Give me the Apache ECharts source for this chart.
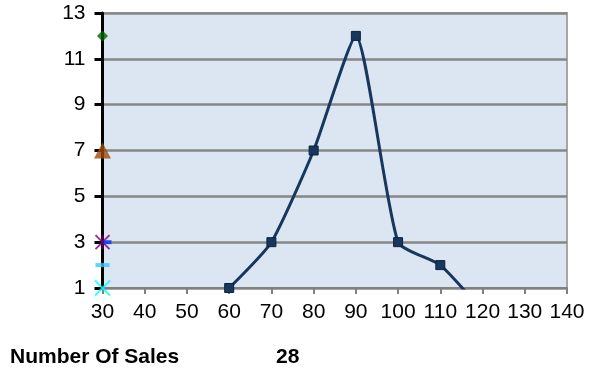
<!DOCTYPE html>
<html><head><meta charset="utf-8">
<script src="https://cdn.jsdelivr.net/npm/echarts@6/dist/echarts.min.js"></script>
<style>html,body{margin:0;padding:0;background:#fff}#c{width:589px;height:373px}</style>
</head><body><div id="c"></div>
<script>
const xTicks = [30,40,50,60,70,80,90,100,110,120,130,140];
const yTicks = [1,3,5,7,9,11,13];
const salesX = [60,70,80,90,100,110,120];
const salesY = [1,3,7,12,3,2,0];
const markerX = 30;
const diamondY = 12;
const triangleY = 7;
const starY = 3;
const blueDashY = 3;
const cyanDashY = 2;
const crossY = 1;
const footerLabel = 'Number Of Sales';
const footerValue = '28';

const chart = echarts.init(document.getElementById('c'), null, {renderer:'canvas'});
const F = '"Liberation Sans", Arial, sans-serif';
const crossPath = 'path://M0,0L10,10M10,0L0,10';
const mk = (y, symbol, size, color, extra) => Object.assign({
  type:'scatter', data:[[markerX,y]], symbol, symbolSize:size,
  itemStyle:{color}, z:5, silent:true, clip:false
}, extra||{});
chart.setOption({
  animation:false,
  grid:{left:102.5,right:22,top:13,bottom:85,show:true,backgroundColor:'#dce6f2',borderColor:'#a6a6a6',borderWidth:2},
  xAxis:{type:'value',min:xTicks[0],max:xTicks[xTicks.length-1],interval:10,
    axisLine:{onZero:false,lineStyle:{color:'#808080',width:2}},
    axisTick:{show:true,length:6,lineStyle:{color:'#808080',width:2}},
    axisLabel:{color:'#000',fontFamily:F,fontSize:21,margin:14},
    splitLine:{show:false}},
  yAxis:{type:'value',min:yTicks[0],max:yTicks[yTicks.length-1],interval:2,
    axisLine:{show:true,lineStyle:{color:'#000',width:3}},
    axisTick:{show:true,length:8,lineStyle:{color:'#000',width:3}},
    axisLabel:{color:'#000',fontFamily:F,fontSize:21,margin:17},
    splitLine:{show:true,lineStyle:{color:'#878787',width:2.5}}},
  series:[
    {type:'line',data:salesX.map((x,i)=>[x,salesY[i]]),smooth:0.18,
     lineStyle:{color:'#17375e',width:3},
     symbol:'rect',symbolSize:(v,p)=>p.dataIndex===salesX.length-1?0:9,
     itemStyle:{color:'#17375e',borderColor:'#0d2340',borderWidth:1},z:4},
    mk(diamondY,'diamond',11,'#006400'),
    mk(triangleY,'triangle',[17,16],'#a04a0a'),
    {type:'scatter',data:[[markerX,blueDashY]],symbol:'rect',symbolSize:[8,4],symbolOffset:[5,0],itemStyle:{color:'#0033ff'},z:6,clip:false},
    mk(starY,'path://M0,0L10,10M10,0L0,10M5,0L5,10',14,'#7a007a',{itemStyle:{color:'none',borderColor:'#7a007a',borderWidth:2}}),
    mk(cyanDashY,'rect',[14,4],'#33ccff'),
    mk(crossY,crossPath,15,'#00ffff',{itemStyle:{color:'none',borderColor:'#00ffff',borderWidth:2}})
  ],
  graphic:[
    {type:'text',left:10,top:347,style:{text:footerLabel,font:'bold 21px '+F,fill:'#000'}},
    {type:'text',left:276,top:347,style:{text:footerValue,font:'bold 21px '+F,fill:'#000'}}
  ]
});
</script></body></html>
